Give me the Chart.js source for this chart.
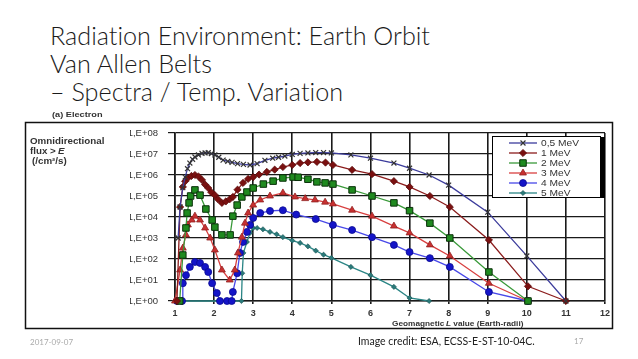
<!DOCTYPE html>
<html>
<head>
<meta charset="utf-8">
<script src="https://cdn.jsdelivr.net/npm/chart.js@4.4.1/dist/chart.umd.min.js"></script>
<style>
  body { margin: 0; background: #fff; }
  #wrap { position: relative; width: 638px; height: 359px; overflow: hidden; background: #fff; }
  #c { position: absolute; left: 0; top: 0; }
  .title { position: absolute; left: 50px; top: 21px; font-family: Lato, "Open Sans", sans-serif; font-weight: 300;
           font-size: 25.2px; line-height: 28px; color: #1a1a1a; white-space: nowrap; font-variant-ligatures: none; }
  .foot { position: absolute; font-family: Lato, "Open Sans", sans-serif; white-space: nowrap; }
</style>
</head>
<body>
<div id="wrap">
  <div class="title">Radiation Environment: Earth Orbit<br>Van Allen Belts<br>– Spectra / Temp. Variation</div>
  <canvas id="c" width="638" height="359"></canvas>
  <div class="foot" style="left:30px;top:337px;font-size:8px;color:#aaa">2017-09-07</div>
  <div class="foot" style="left:358px;top:335px;font-size:10.5px;color:#222">Image credit: ESA, ECSS-E-ST-10-04C.</div>
  <div class="foot" style="left:574px;top:336px;font-size:8px;color:#aaa">17</div>
</div>
<script>
// axis ticks
var xTicks = [1, 2, 3, 4, 5, 6, 7, 8, 9, 10, 11, 12];
var yTickValues = [1, 1e1, 1e2, 1e3, 1e4, 1e5, 1e6, 1e7, 1e8];
var yTickLabels = ['1,E+00', '1,E+01', '1,E+02', '1,E+03', '1,E+04', '1,E+05', '1,E+06', '1,E+07', '1,E+08'];

var seriesNames = ['0,5 MeV', '1 MeV', '2 MeV', '3 MeV', '4 MeV', '5 MeV'];

// 0,5 MeV
var l05 = [1.08, 1.13, 1.2, 1.26, 1.32, 1.38, 1.45, 1.51, 1.6, 1.69, 1.77, 1.85, 1.93, 2.02, 2.12, 2.23, 2.35, 2.46, 2.6, 2.75, 2.92, 3.1, 3.3, 3.5, 3.65, 3.81, 4.0, 4.2, 4.4, 4.6, 4.8, 5.0, 5.5, 6.0, 6.6, 7.0, 7.5, 8.0, 9.0, 10.0, 11.0];
var f05 = [1e3, 3e4, 2.5e5, 8e5, 2e6, 3.7e6, 5.6e6, 7.2e6, 9e6, 1.07e7, 1.12e7, 1.15e7, 1.05e7, 9e6, 7e6, 5.1e6, 4.5e6, 4e6, 3.5e6, 3.2e6, 3e6, 3.5e6, 5e6, 6.3e6, 7e6, 8e6, 9.5e6, 1.07e7, 1.12e7, 1.17e7, 1.17e7, 1.12e7, 9e6, 6.3e6, 3.7e6, 2.1e6, 1e6, 3.3e5, 1.7e4, 140, 1];

// 1 MeV
var l1 = [1.05, 1.13, 1.2, 1.26, 1.33, 1.42, 1.51, 1.6, 1.69, 1.77, 1.85, 1.93, 2.02, 2.1, 2.2, 2.3, 2.4, 2.48, 2.6, 2.74, 2.87, 3.0, 3.15, 3.35, 3.55, 3.76, 4.0, 4.2, 4.4, 4.63, 4.85, 5.04, 5.53, 6.04, 6.6, 7.0, 7.52, 8.03, 9.03, 10.03, 11.0];
var f1 = [1, 3e4, 2.7e5, 5e5, 7.2e5, 9e5, 1e6, 8.5e5, 5.8e5, 3.5e5, 2.4e5, 1.5e5, 1.1e5, 7e4, 4.7e4, 5.5e4, 7e4, 9e4, 2e5, 4.2e5, 6.5e5, 8e5, 1.05e6, 1.4e6, 1.8e6, 2.4e6, 3e6, 3.7e6, 4e6, 4.2e6, 3.9e6, 3e6, 1.75e6, 1.1e6, 5.1e5, 2.7e5, 1e5, 3e4, 800, 5, 1];

// 2 MeV
var l2 = [1.12, 1.2, 1.28, 1.31, 1.36, 1.4, 1.51, 1.64, 1.79, 1.95, 2.02, 2.2, 2.41, 2.48, 2.59, 2.71, 2.84, 3.0, 3.26, 3.51, 3.76, 4.02, 4.15, 4.4, 4.63, 4.84, 5.04, 5.53, 6.04, 6.6, 7.0, 7.52, 8.03, 9.03, 10.03];
var f2 = [1, 155, 3000, 1.55e4, 4.7e4, 1e5, 1.95e5, 1.1e5, 2.4e4, 7.2e3, 3.3e3, 1.4e3, 1.4e3, 1.1e4, 3.7e4, 9e4, 1.55e5, 2.4e5, 3.7e5, 5.1e5, 7.2e5, 8e5, 7.8e5, 6.3e5, 4.7e5, 4.2e5, 3.7e5, 1.95e5, 1e5, 4.7e4, 2e4, 5.1e3, 1e3, 24, 1];

// 3 MeV
var l3 = [1.0, 1.13, 1.2, 1.28, 1.33, 1.43, 1.51, 1.64, 1.77, 1.9, 2.02, 2.2, 2.4, 2.53, 2.61, 2.71, 2.79, 2.87, 3.0, 3.18, 3.43, 3.76, 4.07, 4.33, 4.58, 4.84, 5.04, 5.53, 6.04, 6.6, 7.0, 7.52, 8.03, 9.03, 10.03];
var f3 = [1, 30, 330, 1.4e3, 4.2e3, 7.2e3, 1.1e4, 7.2e3, 3e3, 1e3, 270, 30, 10, 30, 195, 1.1e3, 5.1e3, 1.55e4, 3.7e4, 6.5e4, 1e5, 1.4e5, 9e4, 7.5e4, 6.5e4, 5.1e4, 4.2e4, 2.1e4, 1.1e4, 3.7e3, 1.75e3, 470, 140, 7, 1];

// 4 MeV
var l4 = [1.05, 1.18, 1.2, 1.28, 1.38, 1.51, 1.64, 1.77, 1.85, 1.95, 2.07, 2.15, 2.33, 2.45, 2.48, 2.59, 2.66, 2.74, 2.84, 2.92, 3.0, 3.18, 3.43, 3.76, 4.1, 4.6, 5.04, 5.53, 6.04, 6.6, 7.0, 7.52, 8.03, 9.03, 10.03];
var f4 = [1, 1, 7, 17, 42, 72, 65, 42, 24, 7, 2.4, 1, 1, 1, 2.7, 21, 195, 650, 1.95e3, 4.2e3, 9e3, 1.55e4, 1.95e4, 2.1e4, 1.3e4, 8e3, 4.2e3, 2.4e3, 1.1e3, 470, 215, 110, 42, 2.7, 1];

// 5 MeV
var l5 = [1.0, 2.7, 2.72, 2.75, 2.84, 2.92, 3.0, 3.1, 3.25, 3.43, 3.6, 3.76, 4.0, 4.2, 4.4, 4.6, 4.8, 5.0, 5.5, 6.0, 6.6, 7.0, 7.5];
var f5 = [1, 1, 21, 195, 650, 1.75e3, 3e3, 3e3, 2.6e3, 1.95e3, 1.5e3, 1.1e3, 750, 580, 400, 250, 160, 112, 42, 17, 4.7, 1.4, 1];

var seriesL = [l05, l1, l2, l3, l4, l5];
var seriesF = [f05, f1, f2, f3, f4, f5];

var styles = [
  { line: '#3c3c9c', fill: '#444', border: '#333', ps: 'crossRot', r: 3.5, bw: 1.2 },
  { line: '#8b1c1c', fill: '#7a1010', border: '#5a0a0a', ps: 'rectRot', r: 3.6, bw: 0.8 },
  { line: '#3a9a3a', fill: '#1f8a1f', border: '#0a300a', ps: 'rect', r: 4.6, bw: 1 },
  { line: '#d84040', fill: '#c83030', border: '#902020', ps: 'triangle', r: 4, bw: 0.8 },
  { line: '#4848e8', fill: '#1414c8', border: '#0a0a90', ps: 'circle', r: 3.5, bw: 0.8 },
  { line: '#2a8585', fill: '#2a7a7a', border: '#1a5050', ps: 'rectRot', r: 2.6, bw: 0.6 }
];

var datasets = [];
for (var i in seriesNames) {
  var pts = [];
  for (var j in seriesL[i]) pts.push({ x: seriesL[i][j], y: seriesF[i][j] });
  datasets.push({
    label: seriesNames[i],
    data: pts,
    borderColor: styles[i].line,
    borderWidth: 1.3,
    backgroundColor: styles[i].fill,
    pointBackgroundColor: styles[i].fill,
    pointBorderColor: styles[i].border,
    pointBorderWidth: styles[i].bw,
    pointStyle: styles[i].ps,
    pointRadius: styles[i].r,
    tension: 0,
    clip: false
  });
}

var FONT = '"Liberation Sans", Arial, sans-serif';

function stretchText(c, txt, x, y, font, sx) {
  c.save();
  c.font = font;
  c.translate(x, y);
  c.scale(sx, 1);
  c.fillText(txt, 0, 0);
  c.restore();
}

var decor = {
  id: 'decor',
  afterDraw: function(chart) {
    var c = chart.ctx;
    var a = chart.chartArea;
    c.save();
    // outer frame
    c.strokeStyle = '#111';
    c.lineWidth = 1.5;
    c.strokeRect(25.5, 122.5, 587, 206);
    // texts
    c.fillStyle = '#333';
    c.textBaseline = 'alphabetic';
    stretchText(c, '(a) Electron', 52, 117, 'bold 8px ' + FONT, 1.15);
    stretchText(c, 'Omnidirectional', 30, 144, 'bold 8.5px ' + FONT, 1.15);
    stretchText(c, 'flux > ', 30, 154, 'bold 8.5px ' + FONT, 1.15);
    stretchText(c, 'E', 58, 154, 'italic bold 8.5px ' + FONT, 1.15);
    stretchText(c, '(/cm\u00b2/s)', 32, 164, 'bold 8.5px ' + FONT, 1.15);
    stretchText(c, 'Geomagnetic ', 392, 326, 'bold 7.5px ' + FONT, 1.1);
    stretchText(c, 'L', 446, 326, 'italic bold 7.5px ' + FONT, 1.1);
    stretchText(c, ' value (Earth-radii)', 451, 326, 'bold 7.5px ' + FONT, 1.1);

    // legend box
    var x0 = a.right - 113, y0 = a.top + 3, w = 108, h = 61;
    c.fillStyle = '#000';
    c.fillRect(x0 + 5, y0 + 1, w, h);
    c.fillStyle = '#fff';
    c.fillRect(x0, y0, w, h);
    c.strokeStyle = '#000';
    c.lineWidth = 1;
    c.strokeRect(x0 + 0.5, y0 + 0.5, w, h);
    for (var k = 0; k < datasets.length; k++) {
      var yy = y0 + 7 + k * 10;
      var st = styles[k];
      c.strokeStyle = st.line;
      c.lineWidth = 1.3;
      c.beginPath();
      c.moveTo(x0 + 17, yy);
      c.lineTo(x0 + 45, yy);
      c.stroke();
      c.fillStyle = st.fill;
      c.strokeStyle = st.border;
      c.lineWidth = st.bw;
      Chart.helpers.drawPoint(c, { pointStyle: st.ps, radius: st.r, rotation: 0, borderWidth: st.bw }, x0 + 31, yy);
      c.fillStyle = '#333';
      c.textBaseline = 'middle';
      stretchText(c, seriesNames[k], x0 + 49, yy + 0.5, '8.5px ' + FONT, 1.2);
    }
    c.restore();
  }
};

var ctx = document.getElementById('c');
var chart = new Chart(ctx, {
  type: 'line',
  data: { datasets: datasets },
  options: {
    responsive: false,
    animation: false,
    devicePixelRatio: 1,
    layout: { padding: { left: 130, right: 33, top: 133, bottom: 38 } },
    plugins: { legend: { display: false }, tooltip: { enabled: false } },
    scales: {
      x: {
        type: 'linear', min: 1, max: 12,
        afterBuildTicks: function(s) { s.ticks = xTicks.map(function(v) { return { value: v }; }); },
        afterFit: function(s) { s.height = 20; },
        ticks: { color: '#333', font: { family: FONT, size: 9, weight: 'bold' }, padding: 4, maxRotation: 0, autoSkip: false },
        grid: { color: '#1a1a1a', lineWidth: 1.6, tickLength: 3 },
        border: { color: '#1a1a1a', width: 1.6 }
      },
      y: {
        type: 'logarithmic', min: 1, max: 1e8,
        afterBuildTicks: function(s) { s.ticks = yTickValues.map(function(v) { return { value: v }; }); },
        afterFit: function(s) { s.width = 45; },
        ticks: {
          color: '#333', font: { family: FONT, size: 9.5 }, padding: 10, autoSkip: false,
          callback: function(v) { return yTickLabels[yTickValues.indexOf(v)]; }
        },
        grid: { color: '#1a1a1a', lineWidth: 1.2, tickLength: 7 },
        border: { color: '#1a1a1a', width: 1.6 }
      }
    }
  },
  plugins: [decor]
});
</script>
</body>
</html>
